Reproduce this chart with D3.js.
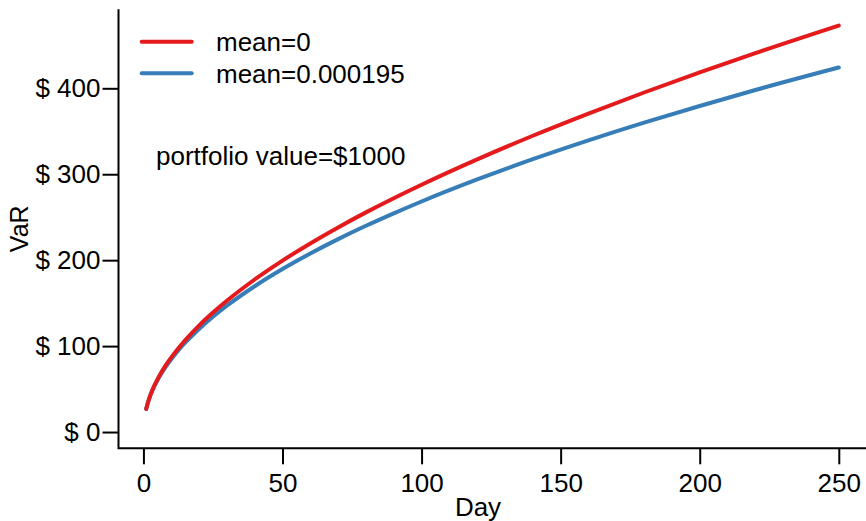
<!DOCTYPE html>
<html>
<head>
<meta charset="utf-8">
<script src="https://cdn.jsdelivr.net/npm/d3@7"></script>
<style>
  html, body { margin: 0; padding: 0; background: #fff; }
  svg { display: block; }
  text { font-family: "Liberation Sans", Arial, Helvetica, sans-serif; fill: #000; }
</style>
</head>
<body>
<svg id="chart" width="866" height="521"></svg>
<script>
// Holding-period horizon (days)
const days = [1, 2, 3, 4, 5, 6, 8, 10, 12, 15, 20, 25, 30, 40, 50, 60, 70, 80, 90,
              100, 120, 140, 160, 180, 200, 220, 250];

// VaR in dollars for each horizon, one array per assumed daily mean
const varMeanZero = [27.0, 38.3, 47.1, 54.5, 61.0, 66.9, 77.5, 86.8, 95.3, 106.8, 123.9,
                     139.0, 152.8, 177.5, 199.5, 219.5, 238.1, 255.6, 272.1, 287.8,
                     317.3, 344.8, 370.6, 395.1, 418.4, 440.9, 473.0];
const varMeanPos  = [26.8, 37.9, 46.5, 53.7, 60.0, 65.7, 75.9, 84.8, 92.9, 103.9, 120.0,
                     134.2, 147.0, 169.7, 189.7, 207.8, 224.5, 240.0, 254.5, 268.3,
                     293.9, 317.5, 339.4, 360.0, 379.4, 398.0, 424.2];

const seriesNames = ["mean=0", "mean=0.000195"];
const seriesColors = ["#E41A1C", "#377EB8"];

const xTicks = [0, 50, 100, 150, 200, 250];
const yTicks = [0, 100, 200, 300, 400];
const yTickLabels = ["$ 0", "$ 100", "$ 200", "$ 300", "$ 400"];

const note = "portfolio value=$1000";

const svg = d3.select("#chart");
const fontSize = 26;

// Plot region (axis limits padded 4% on each side of the data range)
const plotLeft = 118.5, plotRight = 866.5, plotTop = 9.3, plotBottom = 448.3;
const xPad = (d3.max(days) - d3.min(days)) * 0.04;
const yMax = d3.max(varMeanZero);
const yPad = yMax * 0.04;

const x = d3.scaleLinear()
  .domain([d3.min(days) - xPad, d3.max(days) + xPad])
  .range([plotLeft, plotRight]);
const y = d3.scaleLinear()
  .domain([0 - yPad, yMax + yPad])
  .range([plotBottom, plotTop]);

// L-shaped frame
svg.append("path")
  .attr("d", `M${plotLeft},${plotTop}V${plotBottom}H${plotRight}`)
  .attr("fill", "none")
  .attr("stroke", "#000")
  .attr("stroke-width", 2);

// X axis
const xAxis = d3.axisBottom(x)
  .tickValues(xTicks)
  .tickSize(16)
  .tickPadding(9)
  .tickSizeOuter(0);
const gx = svg.append("g")
  .attr("transform", `translate(0,${plotBottom})`)
  .call(xAxis);
gx.select(".domain").remove();
gx.selectAll(".tick line").attr("stroke", "#000").attr("stroke-width", 2);
gx.selectAll(".tick text")
  .attr("font-size", fontSize)
  .attr("font-family", "Liberation Sans, Arial, sans-serif")
  .attr("fill", "#000");

// Y axis
const yAxis = d3.axisLeft(y)
  .tickValues(yTicks)
  .tickFormat((d, i) => yTickLabels[i])
  .tickSize(16)
  .tickPadding(2)
  .tickSizeOuter(0);
const gy = svg.append("g")
  .attr("transform", `translate(${plotLeft},0)`)
  .call(yAxis);
gy.select(".domain").remove();
gy.selectAll(".tick line").attr("stroke", "#000").attr("stroke-width", 2);
gy.selectAll(".tick text")
  .attr("font-size", fontSize)
  .attr("font-family", "Liberation Sans, Arial, sans-serif")
  .attr("fill", "#000");

// Axis titles
svg.append("text")
  .attr("x", 478)
  .attr("y", 516)
  .attr("text-anchor", "middle")
  .attr("font-size", fontSize)
  .text("Day");

svg.append("text")
  .attr("transform", `translate(28,${(plotTop + plotBottom) / 2}) rotate(-90)`)
  .attr("text-anchor", "middle")
  .attr("font-size", 25)
  .text("VaR");

// VaR curves: the positive-mean series first, the zero-mean series on top
const line = d3.line()
  .x(d => x(d[0]))
  .y(d => y(d[1]))
  .curve(d3.curveMonotoneX);

const seriesValues = [varMeanZero, varMeanPos];
[1, 0].forEach(i => {
  svg.append("path")
    .datum(days.map((d, j) => [d, seriesValues[i][j]]))
    .attr("d", line)
    .attr("fill", "none")
    .attr("stroke", seriesColors[i])
    .attr("stroke-width", 4)
    .attr("stroke-linecap", "round")
    .attr("stroke-linejoin", "round");
});

// Legend
const legendX0 = 141.7, legendX1 = 191.7, legendTextX = 216;
const legendY = [41.7, 73.3];
seriesNames.forEach((name, i) => {
  svg.append("line")
    .attr("x1", legendX0).attr("x2", legendX1)
    .attr("y1", legendY[i]).attr("y2", legendY[i])
    .attr("stroke", seriesColors[i])
    .attr("stroke-width", 4)
    .attr("stroke-linecap", "round");
  svg.append("text")
    .attr("x", legendTextX)
    .attr("y", legendY[i] + 9.5)
    .attr("font-size", fontSize)
    .text(name);
});

// Annotation
svg.append("text")
  .attr("x", 156)
  .attr("y", 165)
  .attr("font-size", fontSize)
  .text(note);
</script>
</body>
</html>
